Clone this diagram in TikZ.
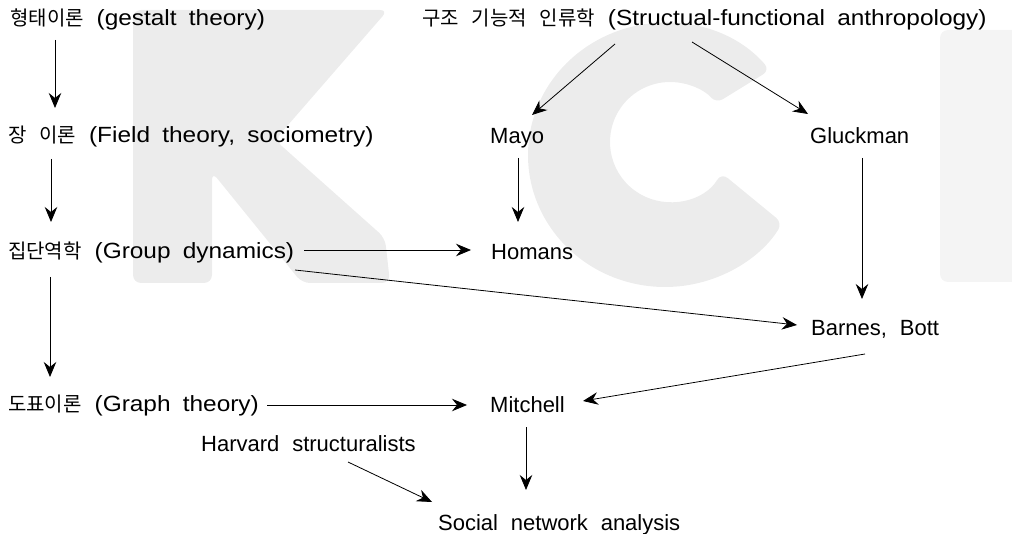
\documentclass[tikz,border=0pt]{standalone}
\usepackage{fontspec}
\usepackage{graphicx}
\setmainfont{Liberation Sans}[WordSpace=2.1]
\newfontfamily\krfont{Noto Sans CJK KR}
\newcommand\kor[1]{{\krfont\fontsize{20}{24}\selectfont #1}}
\newcommand\latw[1]{\scalebox{1.11}[1]{\fontspec{Liberation Sans}[WordSpace=1.8]\fontsize{22}{26}\selectfont #1}}
\usetikzlibrary{arrows.meta,calc}
\begin{document}
\begin{tikzpicture}[x=1pt,y=-1pt,
  lbl/.style={anchor=base west,inner sep=0pt,font=\fontsize{22}{26}\selectfont},
  arr/.style={-{Stealth[length=15pt,width=12.5pt,inset=5pt]},line width=0.8pt},
  wmK/.style={fill=gray!15,rounded corners=8pt},
  wmI/.style={fill=gray!9,rounded corners=8pt}]
\useasboundingbox (0,0) rectangle (1012,534);
% watermark
\fill[wmK] (133,10) -- (388,10) -- (275,140) -- (385,238) -- (390,283) -- (302,283) -- (212,172) -- (212,283) -- (133,283) -- cycle;
\fill[wmK] ($(665,155)+(-40:137 and 132)$) arc[start angle=-40,end angle=-329,x radius=137,y radius=132]
  -- ($(670,142)+(-329:60)$) arc[start angle=-329,end angle=-40,radius=60] -- cycle;
\fill[wmI] (940,30) rectangle (1040,282);
% nodes
\node[lbl] (gestalt) at (10,26) {\kor{형태이론} \latw{(gestalt theory)}};
\node[lbl] (struct) at (422,26) {\kor{구조} \kor{기능적} \kor{인류학} \latw{(Structual-functional anthropology)}};
\node[lbl] (field) at (8,143) {\kor{장} \kor{이론} \latw{(Field theory, sociometry)}};
\node[lbl] (mayo) at (490,144) {Mayo};
\node[lbl] (gluck) at (810,144) {Gluckman};
\node[lbl] (group) at (8,259) {\kor{집단역학} \latw{(Group dynamics)}};
\node[lbl] (homans) at (491,260) {Homans};
\node[lbl] (barnes) at (811,336) {Barnes, Bott};
\node[lbl] (graph) at (8,412) {\kor{도표이론} \latw{(Graph theory)}};
\node[lbl] (mitchell) at (490,413) {Mitchell};
\node[lbl] (harvard) at (201,451) {Harvard structuralists};
\node[lbl] (sna) at (438,530) {Social network analysis};
% connectors
\draw[arr] ([shift={(45,14)}]gestalt.base west) -- ([shift={(47,-35)}]field.base west);
\draw[arr] ([shift={(43,16)}]field.base west) -- ([shift={(43,-37)}]group.base west);
\draw[arr] ([shift={(42,18)}]group.base west) -- ([shift={(42,-35)}]graph.base west);
\draw[arr] ([shift={(193,18)}]struct.base west) -- ([shift={(42,-29)}]mayo.base west);
\draw[arr] ([shift={(270,16)}]struct.base west) -- ([shift={(-2,-30)}]gluck.base west);
\draw[arr] ([shift={(28,14)}]mayo.base west) -- ([shift={(27,-38)}]homans.base west);
\draw[arr] ([shift={(52,14)}]gluck.base west) -- ([shift={(51,-37)}]barnes.base west);
\draw[arr] ([shift={(296,-9)}]group.base west) -- ([shift={(-20,-10)}]homans.base west);
\draw[arr] ([shift={(287,11)}]group.base west) -- ([shift={(-14,-11)}]barnes.base west);
\draw[arr] ([shift={(259,-7)}]graph.base west) -- ([shift={(-23,-8)}]mitchell.base west);
\draw[arr] ([shift={(54,18)}]barnes.base west) -- ([shift={(93,-12)}]mitchell.base west);
\draw[arr] ([shift={(36,14)}]mitchell.base west) -- ([shift={(88,-40)}]sna.base west);
\draw[arr] ([shift={(147,11)}]harvard.base west) -- ([shift={(-6,-28)}]sna.base west);
\end{tikzpicture}
\end{document}
